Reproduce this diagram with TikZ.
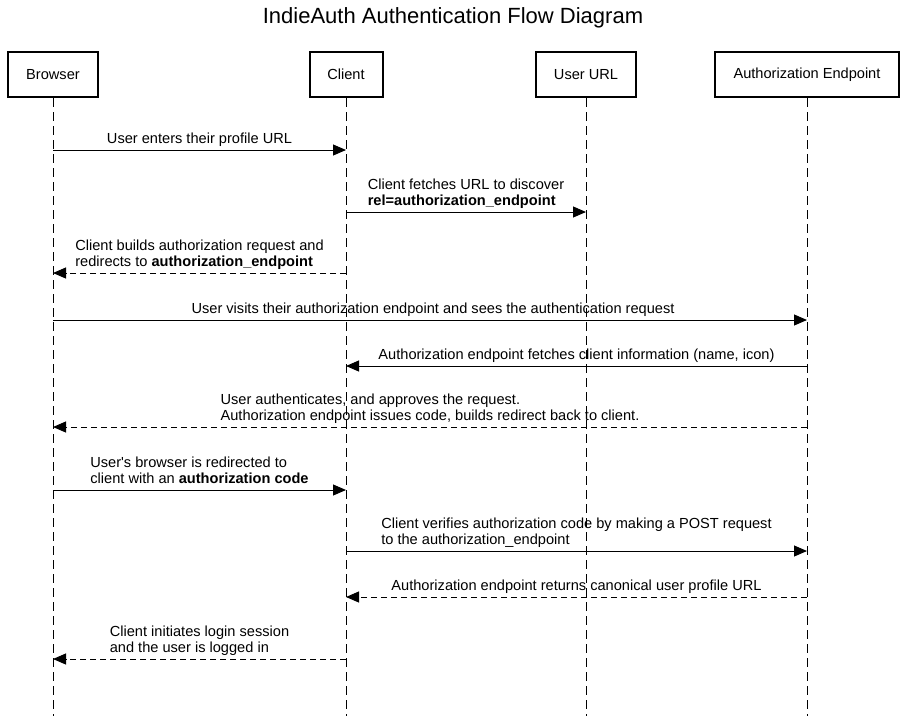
\documentclass[tikz,border=0pt]{standalone}
\usepackage{fontspec}
\setmainfont{Liberation Sans}
\usetikzlibrary{arrows.meta}
\begin{document}
\begin{tikzpicture}[x=1pt,y=-1pt,
  actor/.style={draw,line width=2pt,minimum height=45pt,inner sep=0pt,font=\fontsize{14.6}{16}\selectfont},
  life/.style={line width=1pt,dash pattern=on 9pt off 5pt},
  msg/.style={line width=1pt,-{Triangle[length=13pt,width=11pt]}},
  ret/.style={msg,dash pattern=on 6pt off 4pt},
  lbl/.style={font=\fontsize{14.6}{16}\selectfont,align=left,inner sep=0pt,anchor=base},
  ttl/.style={font=\fontsize{22}{26}\selectfont,inner sep=0pt}
]
\useasboundingbox[fill=white] (0,0) rectangle (906,716);
\node[ttl] (title) at (453,18) {IndieAuth Authentication Flow Diagram};

\node[actor,minimum width=90pt]  (B) at (53,74.5)  {Browser};
\node[actor,minimum width=73pt]  (C) at (346,74.5) {Client};
\node[actor,minimum width=100pt] (U) at (586,74.5) {User URL};
\node[actor,minimum width=184pt] (A) at (807,74.5) {Authorization Endpoint};

\coordinate (Bend) at (53,716);
\coordinate (Cend) at (346,716);
\coordinate (Uend) at (586,716);
\coordinate (Aend) at (807,716);
\draw[life] (B.south) -- (Bend);
\draw[life] (C.south) -- (Cend);
\draw[life] (U.south) -- (Uend);
\draw[life] (A.south) -- (Aend);

% messages
\coordinate (m1s) at (53,150);  \coordinate (m1e) at (346,150);
\draw[msg] (m1s) -- (m1e);
\node[lbl] (l1) at (199.5,143) {User enters their profile URL};

\coordinate (m2s) at (346,212); \coordinate (m2e) at (586,212);
\draw[msg] (m2s) -- (m2e);
\node[lbl] (l2) at (466,205) {Client fetches URL to discover\\\textbf{rel=authorization\_endpoint}};

\coordinate (m3s) at (346,273); \coordinate (m3e) at (53,273);
\draw[ret] (m3s) -- (m3e);
\node[lbl] (l3) at (199.5,266) {Client builds authorization request and\\redirects to \textbf{authorization\_endpoint}};

\coordinate (m4s) at (53,320); \coordinate (m4e) at (807,320);
\draw[msg] (m4s) -- (m4e);
\node[lbl] (l4) at (433,313) {User visits their authorization endpoint and sees the authentication request};

\coordinate (m5s) at (807,366); \coordinate (m5e) at (346,366);
\draw[msg] (m5s) -- (m5e);
\node[lbl] (l5) at (576.5,359) {Authorization endpoint fetches client information (name, icon)};

\coordinate (m6s) at (807,427); \coordinate (m6e) at (53,427);
\draw[ret] (m6s) -- (m6e);
\node[lbl] (l6) at (430,420) {User authenticates, and approves the request.\\Authorization endpoint issues code, builds redirect back to client.};

\coordinate (m7s) at (53,490); \coordinate (m7e) at (346,490);
\draw[msg] (m7s) -- (m7e);
\node[lbl] (l7) at (199.5,483) {User\textquotesingle s browser is redirected to\\client with an \textbf{authorization code}};

\coordinate (m8s) at (346,551); \coordinate (m8e) at (807,551);
\draw[msg] (m8s) -- (m8e);
\node[lbl] (l8) at (576.5,544) {Client verifies authorization code by making a POST request\\to the authorization\_endpoint};

\coordinate (m9s) at (807,597); \coordinate (m9e) at (346,597);
\draw[ret] (m9s) -- (m9e);
\node[lbl] (l9) at (576.5,590) {Authorization endpoint returns canonical user profile URL};

\coordinate (m10s) at (346,659); \coordinate (m10e) at (53,659);
\draw[ret] (m10s) -- (m10e);
\node[lbl] (l10) at (199.5,652) {Client initiates login session\\and the user is logged in};
\end{tikzpicture}
\end{document}
